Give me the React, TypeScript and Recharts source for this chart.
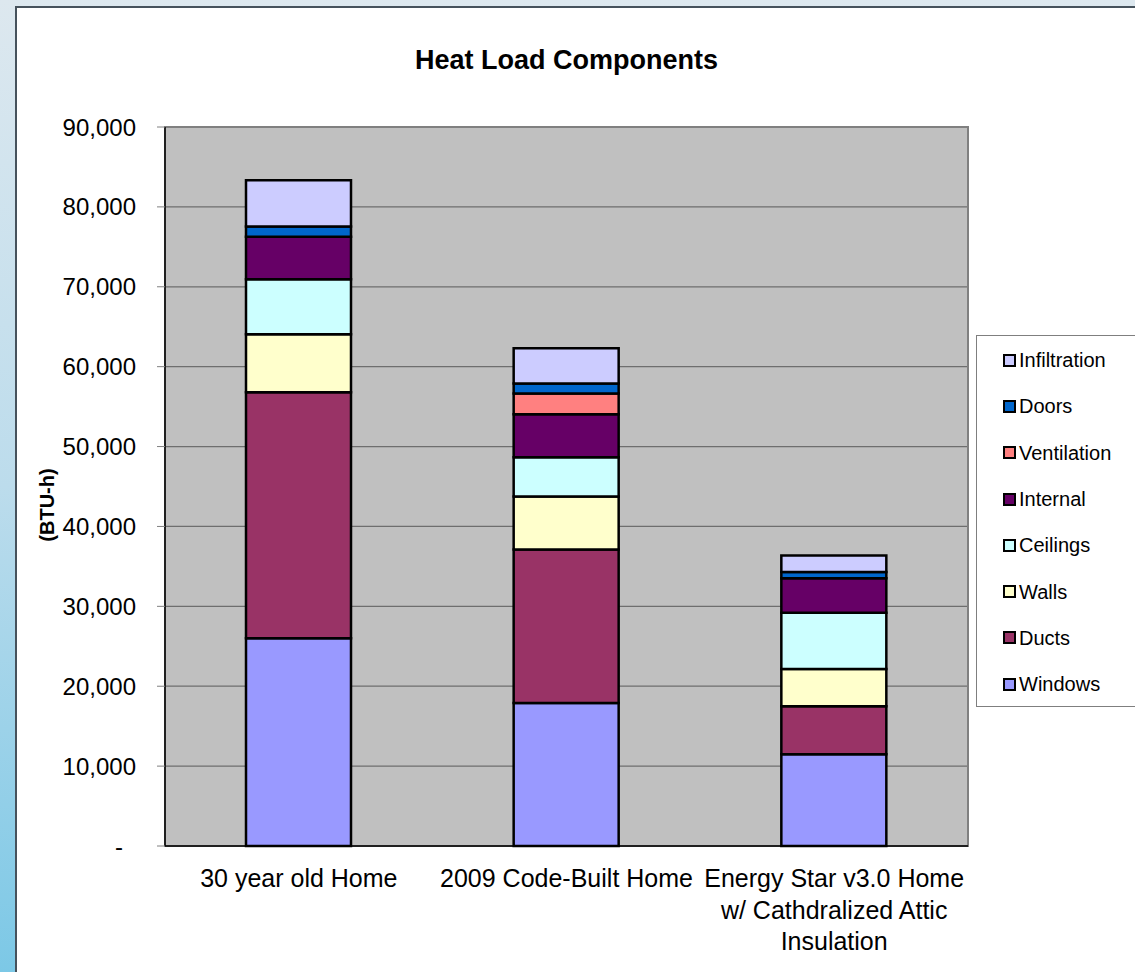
import React from 'react';
import { BarChart, Bar, XAxis, YAxis, CartesianGrid, Legend, ReferenceArea } from 'recharts';

const categories = [
  '30 year old Home',
  '2009 Code-Built Home',
  'Energy Star v3.0 Home\nw/ Cathdralized Attic\nInsulation',
];
const windows = [26000, 17900, 11500];
const ducts = [30800, 19200, 6000];
const walls = [7250, 6650, 4650];
const ceilings = [6900, 4900, 7050];
const internal = [5300, 5400, 4300];
const ventilation = [0, 2600, 0];
const doors = [1300, 1250, 800];
const infiltration = [5800, 4400, 2050];
const yTicks = [0, 10000, 20000, 30000, 40000, 50000, 60000, 70000, 80000, 90000];
const boundaryTicks = [0, 1, 2, 3];

const seriesNames = ['Windows', 'Ducts', 'Walls', 'Ceilings', 'Internal', 'Ventilation', 'Doors', 'Infiltration'];
const seriesValues = [windows, ducts, walls, ceilings, internal, ventilation, doors, infiltration];
const seriesColors = ['#9999FF', '#993366', '#FFFFCC', '#CCFFFF', '#660066', '#FF8080', '#0066CC', '#CCCCFF'];

const data = categories.map((name, i) => {
  const row: any = { name };
  seriesNames.forEach((s, j) => {
    row[s] = seriesValues[j][i];
  });
  return row;
});

const FONT = '"Liberation Sans", Arial, sans-serif';

const XTick = (props: any) => {
  const { x, y, payload } = props;
  const lines = String(payload.value).split('\n');
  return (
    <g transform={`translate(${x},${y})`}>
      <text textAnchor="middle" fontFamily={FONT} fontSize={25} fill="#000">
        {lines.map((l, i) => (
          <tspan key={i} x={0} dy={i === 0 ? 39 : 31.5}>
            {l}
          </tspan>
        ))}
      </text>
    </g>
  );
};

const YTick = (props: any) => {
  const { x, y, payload } = props;
  const v = payload.value;
  return (
    <text
      x={v === 0 ? x - 13 : x}
      y={y}
      dy={8.5}
      textAnchor="end"
      fontFamily={FONT}
      fontSize={24}
      fill="#000"
    >
      {v === 0 ? '-' : Number(v).toLocaleString('en-US')}
    </text>
  );
};

const LegendContent = () => {
  const items = seriesNames.map((n, i) => ({ n, c: seriesColors[i] })).reverse();
  return (
    <div
      style={{
        width: 170,
        height: 372,
        boxSizing: 'border-box',
        border: '1px solid #7f7f7f',
        background: '#fff',
        paddingTop: 1,
      }}
    >
      {items.map((it) => (
        <div
          key={it.n}
          style={{
            height: 46.3,
            display: 'flex',
            alignItems: 'center',
            paddingLeft: 26,
          }}
        >
          <span
            style={{
              display: 'inline-block',
              width: 9,
              height: 9,
              border: '2px solid #000',
              background: it.c,
              marginRight: 3,
            }}
          />
          <span style={{ fontFamily: FONT, fontSize: 20, color: '#000', lineHeight: '20px' }}>{it.n}</span>
        </div>
      ))}
    </div>
  );
};

export default function App() {
  return (
    <div
      style={{
        position: 'absolute',
        left: 0,
        top: 0,
        width: 1135,
        height: 972,
        overflow: 'hidden',
        background: 'linear-gradient(to bottom, #dde8ef 0%, #bcdcec 50%, #7cc8e6 100%)',
      }}
    >
      <div
        style={{
          position: 'absolute',
          left: 15,
          top: 6,
          width: 1130,
          height: 980,
          background: '#fff',
          borderLeft: '2px solid #46525c',
          borderTop: '2px solid #46525c',
        }}
      />
      <div
        style={{
          position: 'absolute',
          left: 165,
          width: 803,
          top: 45,
          textAlign: 'center',
          fontFamily: FONT,
          fontWeight: 'bold',
          fontSize: 27,
          color: '#000',
        }}
      >
        Heat Load Components
      </div>
      <div
        style={{
          position: 'absolute',
          left: 47,
          top: 505,
          width: 0,
          height: 0,
        }}
      >
        <div
          style={{
            position: 'absolute',
            transform: 'translate(-50%, -50%) rotate(-90deg)',
            whiteSpace: 'nowrap',
            fontFamily: FONT,
            fontWeight: 'bold',
            fontSize: 20,
            color: '#000',
          }}
        >
          (BTU-h)
        </div>
      </div>
      <div style={{ position: 'absolute', left: 0, top: 0 }}>
        <BarChart
          width={1135}
          height={972}
          data={data}
          margin={{ top: 127, right: 167, bottom: 46, left: 45 }}
          barSize={105}
        >
          <CartesianGrid
            horizontal={true}
            vertical={false}
            fill="#C0C0C0"
            stroke="#6e6e6e"
            strokeWidth={1.3}
            yAxisId="left"
            xAxisId="cat"
          />
          <XAxis
            xAxisId="marks"
            type="number"
            domain={[0, 3]}
            ticks={boundaryTicks}
            height={0}
            tick={false}
            tickSize={7}
            tickLine={{ stroke: '#808080' }}
            axisLine={false}
            allowDataOverflow
          />
          <XAxis
            xAxisId="cat"
            dataKey="name"
            height={80}
            tickSize={0}
            tickLine={false}
            axisLine={{ stroke: '#000', strokeWidth: 1.5 }}
            tick={<XTick />}
            interval={0}
          />
          <YAxis
            yAxisId="left"
            width={120}
            domain={[0, 90000]}
            ticks={yTicks}
            interval={0}
            tickSize={8}
            tickMargin={21}
            tickLine={{ stroke: '#808080' }}
            axisLine={{ stroke: '#000', strokeWidth: 1.5 }}
            tick={<YTick />}
          />
          <ReferenceArea
            xAxisId="cat"
            yAxisId="left"
            y1={0}
            y2={90000}
            fill="none"
            stroke="#808080"
            strokeWidth={2}
            ifOverflow="visible"
          />
          {seriesNames.map((s, i) => (
            <Bar
              key={s}
              dataKey={s}
              name={s}
              stackId="a"
              xAxisId="cat"
              yAxisId="left"
              fill={seriesColors[i]}
              stroke="#000"
              strokeWidth={2.5}
              isAnimationActive={false}
            />
          ))}
          <Legend
            layout="horizontal"
            verticalAlign="middle"
            align="center"
            content={<LegendContent />}
            wrapperStyle={{ left: 976, top: 335, width: 170, height: 372 }}
          />
        </BarChart>
      </div>
    </div>
  );
}
